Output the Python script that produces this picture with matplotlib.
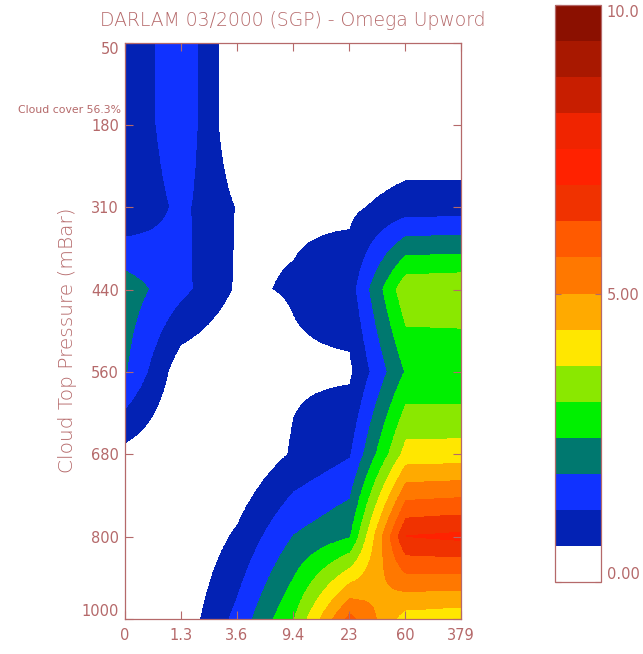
import numpy as np
import matplotlib
matplotlib.use("Agg")
import matplotlib.pyplot as plt
from matplotlib.colors import ListedColormap, BoundaryNorm

# Optical depth bins (x) and cloud-top pressure bins (y)
tau_labels = ["0", "1.3", "3.6", "9.4", "23", "60", "379"]
pressure_labels = ["50", "180", "310", "440", "560", "680", "800", "1000"]

# Upward omega frequency per pressure level, one value per optical-depth bin
omega_050 = [0.65, 1.75, 0.07, 0.00, 0.00, 0.00, 0.00]
omega_180 = [0.65, 1.75, 0.07, 0.00, 0.00, 0.00, 0.00]
omega_310 = [0.69, 1.40, 0.59, 0.54, 0.50, 0.92, 0.92]
omega_440 = [2.22, 1.43, 0.55, 0.67, 0.96, 3.60, 3.68]
omega_560 = [1.95, 0.25, 0.00, 0.53, 0.52, 2.56, 2.53]
omega_680 = [0.44, 0.00, 0.00, 0.70, 1.19, 4.00, 4.04]
omega_800 = [0.00, 0.00, 0.73, 1.90, 2.45, 6.90, 7.05]
omega_1000 = [0.00, 0.20, 1.44, 3.10, 5.85, 4.10, 3.95]

cloud_cover = 56.3

band_colors = [
    "#FFFFFF", "#0322B4", "#1032FF", "#00786F", "#00F000", "#8AE800",
    "#FFE700", "#FFAA00", "#FF7800", "#FF5A00", "#F03200", "#FF2200",
    "#F02400", "#C81E00", "#A81800", "#8B1000",
]
levels = np.linspace(0.0, 10.0, len(band_colors) + 1)

ink = "#B5696A"

field = np.array([omega_050, omega_180, omega_310, omega_440,
                  omega_560, omega_680, omega_800, omega_1000])
nx = len(tau_labels)
ny = len(pressure_labels)

fig = plt.figure(figsize=(6.43, 6.54), dpi=100)
W, H = 643.0, 654.0

ax = fig.add_axes([124.5 / W, 1 - 619.3 / H, (461 - 124.5) / W, (619.3 - 42.5) / H])
cmap = ListedColormap(band_colors)
norm = BoundaryNorm(levels, cmap.N)
# bilinear shading between grid nodes, quantised into the contour bands
im = ax.imshow(field, cmap=cmap, norm=norm, interpolation="bilinear",
               interpolation_stage="data", aspect="auto", origin="upper",
               extent=(-0.5, nx - 0.5, ny - 0.5, -0.5))
ax.set_xlim(0, nx - 1)
ax.set_ylim(ny - 1, 0)
ax.set_xticks(np.arange(nx))
ax.set_xticklabels(tau_labels)
ax.set_yticks(np.arange(ny))
ax.set_yticklabels(pressure_labels)
ax.tick_params(direction="in", length=6, width=0.8, color=ink,
               labelcolor=ink, labelsize=10.5, top=True, right=True, pad=4)
ax.tick_params(axis="x", pad=6)
ylabels = ax.get_yticklabels()
ylabels[0].set_va("top")
ylabels[-1].set_va("bottom")
for s in ax.spines.values():
    s.set_color(ink)
    s.set_linewidth(0.9)

fig.text(292.75 / W, 1 - 21 / H, "DARLAM 03/2000 (SGP) - Omega Upword",
         ha="center", va="center", color=ink, fontsize=13.5, fontweight="light")
fig.text(68 / W, 1 - 340 / H, "Cloud Top Pressure (mBar)", rotation=90,
         ha="center", va="center", color=ink, fontsize=14.5, fontweight="light")
fig.text(121 / W, 1 - 110 / H, f"Cloud cover {cloud_cover}%",
         ha="right", va="center", color=ink, fontsize=7.8)

cax = fig.add_axes([555 / W, 1 - 582 / H, 46 / W, 577 / H])
cb = fig.colorbar(im, cax=cax, ticks=[0, 5, 10])
cb.ax.minorticks_off()
cb.ax.set_yticklabels(["0.00", "5.00", "10.0"])
cb.ax.tick_params(direction="in", length=4, color=ink, labelcolor=ink,
                  labelsize=10.5, left=True, right=True, pad=4)
tl = cb.ax.get_yticklabels()
tl[0].set_va("bottom")
tl[2].set_va("top")
cb.outline.set_edgecolor(ink)
cb.outline.set_linewidth(0.9)

fig.savefig("out.png", dpi=100)
